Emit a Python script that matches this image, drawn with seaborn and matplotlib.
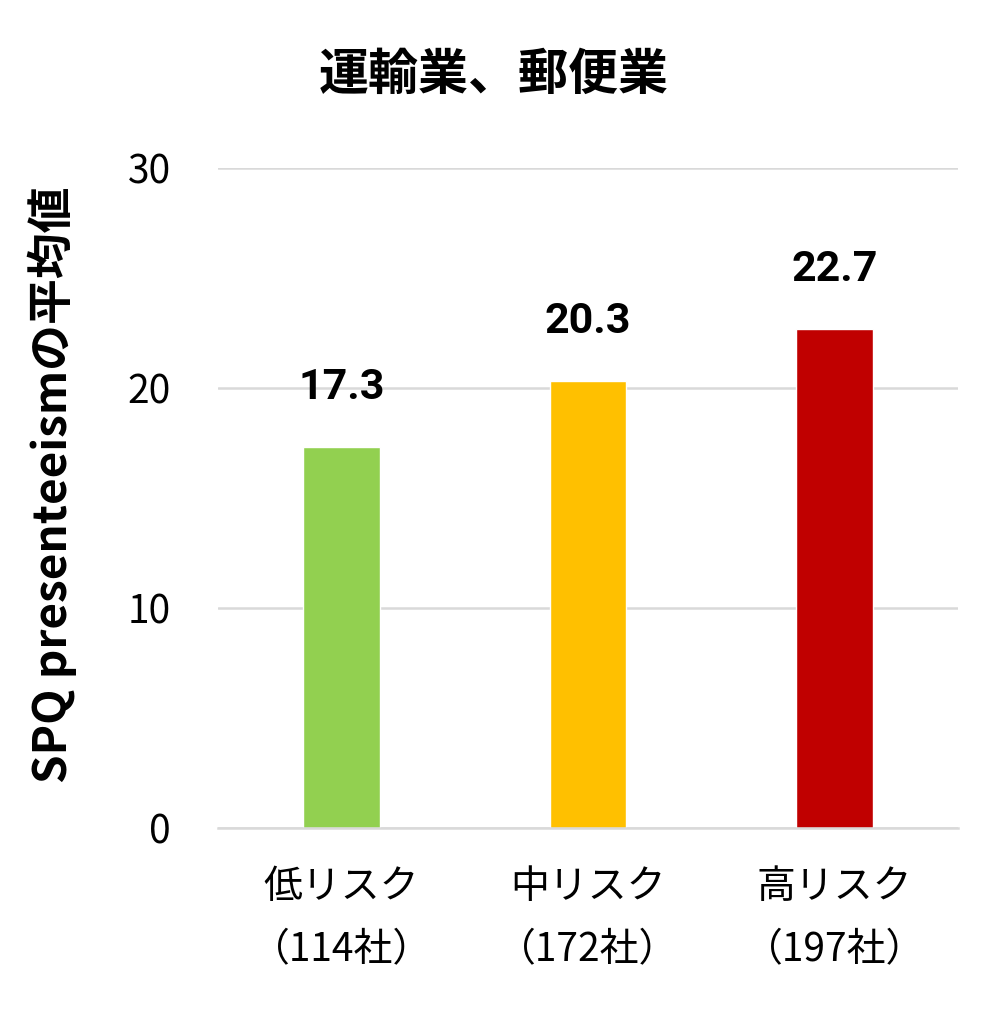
import seaborn as sns
import matplotlib.pyplot as plt
import pandas as pd

categories = ["低リスク\n（114社）", "中リスク\n（172社）", "高リスク\n（197社）"]
values = [17.3, 20.3, 22.7]
colors = ["#92D050", "#FFC000", "#C00000"]
yticks = [0, 10, 20, 30]

title = "運輸業、郵便業"
ylabel = "SPQ presenteeismの平均値"


def main():
    sns.set_style("white")
    plt.rcParams['font.family'] = ['Noto Sans CJK JP', 'DejaVu Sans']
    plt.rcParams['text.color'] = 'black'
    plt.rcParams['axes.labelcolor'] = 'black'
    plt.rcParams['xtick.color'] = 'black'
    plt.rcParams['ytick.color'] = 'black'

    df = pd.DataFrame({"group": categories, "value": values})

    fig = plt.figure(figsize=(10.08, 10.35), dpi=100)
    ax = fig.add_axes([0.2163, 0.2, 0.734, 0.6377])

    sns.barplot(data=df, x="group", y="value", hue="group",
                palette=colors, width=0.31, legend=False, ax=ax,
                saturation=1)

    ax.set_ylim(0, 30)
    ax.set_xlim(-0.5, 2.5)
    ax.set_yticks(yticks)
    ax.yaxis.grid(True, color="#D9D9D9", linewidth=1.8)
    ax.set_axisbelow(True)

    for side in ["top", "right", "left"]:
        ax.spines[side].set_visible(False)
    ax.spines["bottom"].set_color("#D9D9D9")
    ax.spines["bottom"].set_linewidth(1.8)

    ax.tick_params(axis='y', length=0, pad=34, labelsize=28)
    ax.tick_params(axis='x', length=0, pad=28, labelsize=28)
    for lab in ax.get_xticklabels():
        lab.set_linespacing(1.75)

    ax.set_xlabel("")
    ax.set_ylabel(ylabel, fontsize=33, fontweight="bold")
    ax.yaxis.set_label_coords(-0.19, 0.52)

    # value labels above bars
    for i, v in enumerate(values):
        ax.annotate(f"{v:.1f}", xy=(i, v), xytext=(0, 28),
                    textcoords="offset points", ha="center", va="bottom",
                    fontsize=31, fontweight="bold", family="Roboto")

    fig.text(0.49, 0.9275, title, ha="center", va="center",
             fontsize=36, fontweight="bold")

    fig.savefig("out.png", dpi=100)
    plt.close()


if __name__ == "__main__":
    main()
